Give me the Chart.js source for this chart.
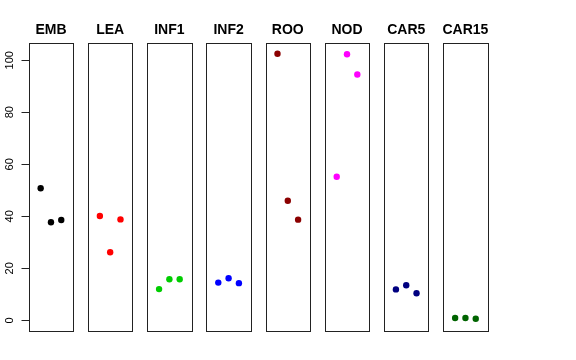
<!DOCTYPE html>
<html>
<head>
<meta charset="utf-8">
<script src="https://cdn.jsdelivr.net/npm/chart.js@4"></script>
<style>
html,body{margin:0;padding:0;background:#fff;}
canvas{display:block;}
</style>
</head>
<body>
<canvas id="c" width="576" height="360"></canvas>
<script>
const categories = ['EMB','LEA','INF1','INF2','ROO','NOD','CAR5','CAR15'];
const colors = ['#000000','#FF0000','#00CD00','#0000FF','#8B0000','#FF00FF','#000080','#006400'];
const replicates = [1, 2, 3];
const EMB   = [50.8, 37.7, 38.6];
const LEA   = [40.1, 26.2, 38.8];
const INF1  = [12.0, 15.8, 15.8];
const INF2  = [14.5, 16.2, 14.3];
const ROO   = [102.5, 46.0, 38.7];
const NOD   = [55.2, 102.3, 94.5];
const CAR5  = [11.9, 13.5, 10.4];
const CAR15 = [0.9, 0.9, 0.6];
const seriesValues = [EMB, LEA, INF1, INF2, ROO, NOD, CAR5, CAR15];
const yTicks = [0, 20, 40, 60, 80, 100];

// panel layout (in x-scale units)
const STEP = 5.745;
const XLO = -0.16, XHI = 4.16;
const YLO = -4.1, YHI = 106.5;

const datasets = categories.map((cat, i) => ({
  label: cat,
  data: seriesValues[i].map((v, j) => ({ x: i * STEP + replicates[j], y: v })),
  backgroundColor: colors[i],
  borderColor: colors[i],
  pointRadius: 3.2,
  pointBorderWidth: 0,
  showLine: false
}));

const panelPlugin = {
  id: 'panels',
  afterDraw(chart) {
    const ctx = chart.ctx;
    const xs = chart.scales.x, ys = chart.scales.y;
    ctx.save();
    const top = Math.round(ys.getPixelForValue(YHI)) + 0.5;
    const bot = Math.round(ys.getPixelForValue(YLO)) + 0.5;
    ctx.strokeStyle = '#222';
    ctx.lineWidth = 1;
    categories.forEach((cat, i) => {
      const l = Math.round(xs.getPixelForValue(i * STEP + XLO)) + 0.5;
      const r = Math.round(xs.getPixelForValue(i * STEP + XHI)) + 0.5;
      ctx.strokeRect(l, top, r - l, bot - top);
      ctx.fillStyle = '#000';
      ctx.font = 'bold 14px "Liberation Sans", Arial, sans-serif';
      ctx.textAlign = 'center';
      ctx.textBaseline = 'alphabetic';
      ctx.fillText(cat, xs.getPixelForValue(i * STEP + 2), 34);
    });
    // y axis ticks and labels
    const axX = Math.round(xs.getPixelForValue(XLO)) + 0.5;
    ctx.font = '11px "Liberation Sans", Arial, sans-serif';
    yTicks.forEach(t => {
      const py = Math.round(ys.getPixelForValue(t)) + 0.5;
      ctx.beginPath();
      ctx.moveTo(axX - 8, py);
      ctx.lineTo(axX, py);
      ctx.stroke();
      ctx.save();
      ctx.translate(13, ys.getPixelForValue(t));
      ctx.rotate(-Math.PI / 2);
      ctx.textAlign = 'center';
      ctx.textBaseline = 'alphabetic';
      ctx.fillStyle = '#000';
      ctx.fillText(String(t), 0, 0);
      ctx.restore();
    });
    ctx.restore();
  }
};

new Chart(document.getElementById('c'), {
  type: 'scatter',
  data: { datasets },
  options: {
    responsive: false,
    animation: false,
    layout: { padding: { left: 28.7, right: 88.3, top: 43.3, bottom: 29 } },
    scales: {
      x: { type: 'linear', min: XLO, max: 7 * STEP + XHI, display: false },
      y: { type: 'linear', min: YLO, max: YHI, display: false }
    },
    plugins: { legend: { display: false }, tooltip: { enabled: false } }
  },
  plugins: [panelPlugin]
});
</script>
</body>
</html>
